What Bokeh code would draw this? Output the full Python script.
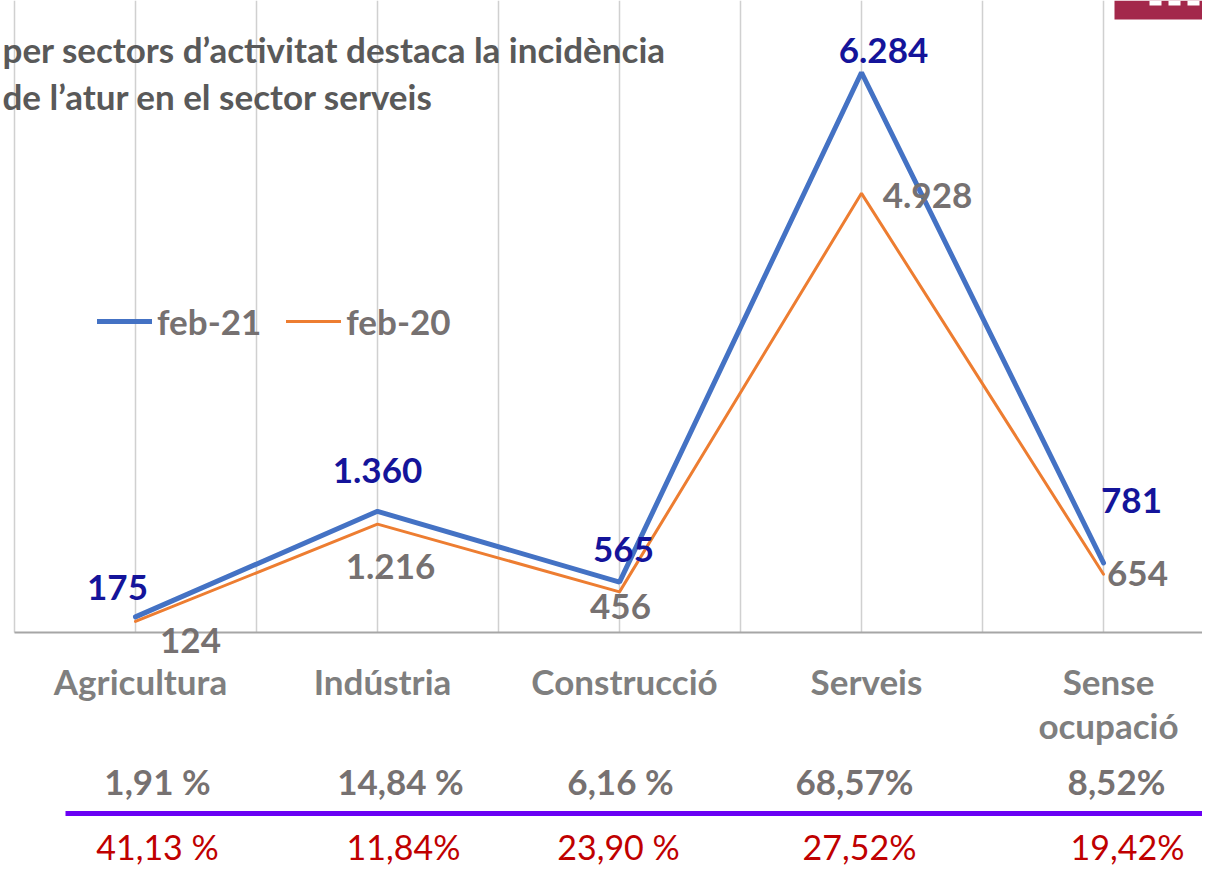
from bokeh.plotting import figure
from bokeh.models import Range1d, ColumnDataSource, Legend, LegendItem
from bokeh.embed import file_html
from bokeh.resources import INLINE
from bokeh.core.properties import value

# ---------------- data ----------------
categories = ["Agricultura", "Indústria", "Construcció", "Serveis", "Sense ocupació"]
feb21 = [175, 1360, 565, 6284, 781]
feb20 = [124, 1216, 456, 4928, 654]
share_feb21 = ["1,91 %", "14,84 %", "6,16 %", "68,57%", "8,52%"]
change_pct = ["41,13 %", "11,84%", "23,90 %", "27,52%", "19,42%"]
series_names = ["feb-21", "feb-20"]
title_lines = ["per sectors d’activitat destaca la incidència",
               "de l’atur en el sector serveis"]

# ---------------- layout / style ----------------
FIG_W, FIG_H = 1202, 867
CAT_PX = 242.0          # pixels per category
CAT0_PX = 135.0         # x of first category
BASE_PX = 632.0         # y (from top) of value 0
K = 560.0 / 6284.0      # px per unit
Y_TOP = BASE_PX / K
X0 = -CAT0_PX / CAT_PX
X1 = (FIG_W - CAT0_PX) / CAT_PX
Y0 = -(FIG_H - BASE_PX) / K

def py(sy):
    return (BASE_PX - sy) / K

def px(sx):
    return (sx - CAT0_PX) / CAT_PX

BLUE, ORANGE = "#4472c4", "#ed7d31"
GRAY_TXT = "#767171"
FONT = value("Lato")

p = figure(width=FIG_W, height=FIG_H, x_range=Range1d(X0, X1), y_range=Range1d(Y0, Y_TOP),
           x_axis_type=None, y_axis_type=None, output_backend="svg",
           toolbar_location=None, min_border=0)
p.grid.visible = False
p.outline_line_color = None
p.background_fill_color = "white"

n = len(categories)
xs = list(range(n))

# vertical gridlines at category centres and between categories
grid_x = [i * 0.5 - 0.5 for i in range(2 * n)]
p.segment(x0=grid_x, y0=[0] * len(grid_x), x1=grid_x, y1=[Y_TOP] * len(grid_x),
          line_color="#d0d0d0", line_width=1.5)
# category axis baseline
p.segment(x0=[-0.5], y0=[0], x1=[X1], y1=[0], line_color="#a6a6a6", line_width=2)

# series lines
r21 = p.line(xs, feb21, line_color=BLUE, line_width=5, line_cap="round")
r20 = p.line(xs, feb20, line_color=ORANGE, line_width=3, line_cap="round")

def fmt(v):
    return f"{v:,}".replace(",", ".")

# data labels (screen-pixel nudges)
blue_dx = [-18, 0, 4, 22, 28]
blue_dy = [-29, -41, -33, -22, -62]
gray_dx = [55, 13, 1, 66, 34]
gray_dy = [19, 42, 15, 2, -1]

src21 = ColumnDataSource(dict(x=xs, y=feb21, t=[fmt(v) for v in feb21], dx=blue_dx, dy=blue_dy))
src20 = ColumnDataSource(dict(x=xs, y=feb20, t=[fmt(v) for v in feb20], dx=gray_dx, dy=gray_dy))
p.text(x="x", y="y", text="t", x_offset="dx", y_offset="dy", source=src21,
       text_font=FONT, text_font_style="bold", text_font_size="35px",
       text_color="#14149a", text_align="center", text_baseline="middle")
p.text(x="x", y="y", text="t", x_offset="dx", y_offset="dy", source=src20,
       text_font=FONT, text_font_style="bold", text_font_size="35px",
       text_color=GRAY_TXT, text_align="center", text_baseline="middle")

# title
p.text(x=[px(2)] * 2, y=[py(48), py(95)], text=title_lines,
       text_font=FONT, text_font_style="bold", text_font_size="35px",
       text_color="#595959", text_align="left", text_baseline="middle")

# category labels
cat_src = ColumnDataSource(dict(x=xs, y=[py(659)] * n, t=[c.replace(" ", "\n") for c in categories]))
p.text(x="x", y="y", text="t", x_offset=5, source=cat_src,
       text_font=FONT, text_font_style="bold", text_font_size="35px",
       text_color="#7f7f7f", text_align="center", text_baseline="top",
       text_line_height=1.05)

# percentage rows
row1_dx = [22, 23, 1, -7, 13]
row2_dx = [22, 26, -1, -2, 24]
p.text(x=xs, y=[py(780)] * n, text=share_feb21, x_offset=row1_dx,
       text_font=FONT, text_font_style="bold", text_font_size="35px",
       text_color=GRAY_TXT, text_align="center", text_baseline="middle")
p.text(x=xs, y=[py(846)] * n, text=change_pct, x_offset=row2_dx,
       text_font=FONT, text_font_size="34px",
       text_color="#c00000", text_align="center", text_baseline="middle")

# purple separator
p.segment(x0=[px(65)], y0=[py(813)], x1=[X1], y1=[py(813)], line_color="#6a00f4", line_width=5)

# logo corner box
p.quad(left=[px(1114)], right=[X1], top=[Y_TOP], bottom=[py(19)], fill_color="#a3284b", line_color=None)
p.quad(left=[px(1149), px(1168), px(1187)], right=[px(1161), px(1180), px(1199)],
       top=[Y_TOP] * 3, bottom=[py(5)] * 3, fill_color="white", line_color=None)

# legend
legend = Legend(items=[LegendItem(label=series_names[0], renderers=[r21]),
                       LegendItem(label=series_names[1], renderers=[r20])],
                orientation="horizontal", location=(97, FIG_H - 324 - 18),
                glyph_width=55, glyph_height=36, label_height=36, label_standoff=5,
                spacing=25, padding=0, margin=0,
                border_line_alpha=0, background_fill_alpha=0,
                label_text_font="Lato", label_text_font_style="bold",
                label_text_font_size="35px", label_text_color=GRAY_TXT)
p.add_layout(legend)

open("out.html", "w").write(file_html(p, INLINE))
